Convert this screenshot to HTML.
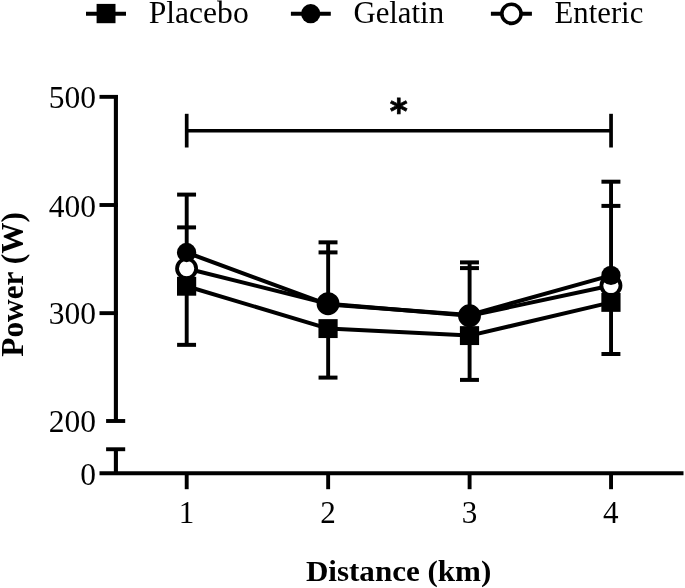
<!DOCTYPE html>
<html lang="en">
<head>
<meta charset="utf-8">
<title>Power vs Distance</title>
<style>
  html, body { margin: 0; padding: 0; background: #ffffff; }
  body { width: 685px; height: 588px; overflow: hidden; }
  svg { display: block; }
  text { fill: #000; }
  .t  { font-family: "Liberation Serif", "DejaVu Serif", serif; font-size: 30.6px; }
  .ty { font-family: "Liberation Serif", "DejaVu Serif", serif; font-size: 32.3px; }
  .tx { font-family: "Liberation Serif", "DejaVu Serif", serif; font-size: 31.1px; }
  .tb { font-family: "Liberation Serif", "DejaVu Serif", serif; font-size: 29.2px; font-weight: bold; }
  .star { font-family: "DejaVu Sans", "Liberation Sans", sans-serif; font-weight: bold; font-size: 34.4px; stroke: #000; stroke-width: 0.8px; stroke-linejoin: miter; }
  line, polyline { stroke: #000; fill: none; stroke-linecap: butt; }
  .ax { stroke-width: 4.1; }
  .tk { stroke-width: 3.9; }
  .eb { stroke-width: 3.9; }
  .cap { stroke-width: 4; }
  .sg { stroke-width: 3.7; }
  .lg { stroke-width: 4; }
  .dl { stroke-width: 4; stroke-linejoin: round; }
</style>
</head>
<body>
<svg width="685" height="588" viewBox="0 0 685 588">
  <rect x="0" y="0" width="685" height="588" fill="#ffffff"/>

  <!-- legend -->
  <g id="legend">
    <line class="lg" x1="86" y1="13.85" x2="126" y2="13.85"/>
    <rect x="96.6" y="3.9" width="18.9" height="19.3" fill="#000"/>
    <text class="t" transform="translate(148.7,23.2) scale(1.033,1)">Placebo</text>
    <line class="lg" x1="290.9" y1="13.85" x2="330.8" y2="13.85"/>
    <circle cx="310.7" cy="13.7" r="9.65" fill="#000"/>
    <text class="t" transform="translate(353.4,23.2) scale(1.007,1)">Gelatin</text>
    <line class="lg" x1="490.9" y1="13.85" x2="531.9" y2="13.85"/>
    <circle cx="511.45" cy="13.8" r="9.6" fill="#fff" stroke="#000" stroke-width="3.6"/>
    <text class="t" transform="translate(554.6,23.3) scale(1.004,1)">Enteric</text>
  </g>

  <!-- axes -->
  <g id="axes">
    <line class="ax" x1="115.90" y1="95.00" x2="115.90" y2="421.00"/>
    <line class="tk" x1="106.10" y1="421.00" x2="125.20" y2="421.00"/>
    <line class="tk" x1="106.10" y1="449.25" x2="125.20" y2="449.25"/>
    <line class="ax" x1="115.90" y1="449.25" x2="115.90" y2="473.30"/>
    <line class="ax" x1="99.50" y1="473.30" x2="683.50" y2="473.30"/>
    <line class="tk" x1="99.50" y1="96.85" x2="117.90" y2="96.85"/>
    <line class="tk" x1="99.50" y1="205.00" x2="117.90" y2="205.00"/>
    <line class="tk" x1="99.50" y1="313.15" x2="117.90" y2="313.15"/>
    <line class="tk" x1="186.70" y1="473.30" x2="186.70" y2="489.20"/>
    <line class="tk" x1="328.15" y1="473.30" x2="328.15" y2="489.20"/>
    <line class="tk" x1="469.60" y1="473.30" x2="469.60" y2="489.20"/>
    <line class="tk" x1="611.05" y1="473.30" x2="611.05" y2="489.20"/>
  </g>
  <!-- tick labels -->
  <g id="ticklabels">
    <text class="ty" transform="translate(96.1,107.9) scale(0.976,1)" text-anchor="end">500</text>
    <text class="ty" transform="translate(96.1,216.5) scale(0.976,1)" text-anchor="end">400</text>
    <text class="ty" transform="translate(96.1,324.2) scale(0.976,1)" text-anchor="end">300</text>
    <text class="ty" transform="translate(96.1,432.3) scale(0.976,1)" text-anchor="end">200</text>
    <text class="ty" transform="translate(96.1,484.6) scale(0.976,1)" text-anchor="end">0</text>
    <text class="tx" x="186.50" y="523" text-anchor="middle">1</text>
    <text class="tx" x="327.95" y="523" text-anchor="middle">2</text>
    <text class="tx" x="469.40" y="523" text-anchor="middle">3</text>
    <text class="tx" x="610.85" y="523" text-anchor="middle">4</text>
  </g>
  <!-- axis titles -->
  <text class="tb" transform="translate(398.6,581.4) scale(1.025,1)" text-anchor="middle" style="font-size:30.3px">Distance (km)</text>
  <text class="tb" transform="translate(22.8,284.4) rotate(-90) scale(0.987,1)" text-anchor="middle" style="font-size:31.7px">Power (W)</text>

  <!-- significance bar -->
  <g id="sig">
    <line class="sg" x1="186.70" y1="130.75" x2="611.05" y2="130.75"/>
    <line class="sg" x1="186.70" y1="113.80" x2="186.70" y2="147.50"/>
    <line class="sg" x1="611.05" y1="113.80" x2="611.05" y2="147.50"/>
    <text class="star" x="398.75" y="123.0" text-anchor="middle">*</text>
  </g>
  <!-- error bars -->
  <g id="errorbars">
    <line class="eb" x1="186.70" y1="194.60" x2="186.70" y2="268.50"/>
    <line class="eb" x1="186.70" y1="286.25" x2="186.70" y2="344.85"/>
    <line class="cap" x1="177.10" y1="194.60" x2="196.05" y2="194.60"/>
    <line class="cap" x1="177.10" y1="227.40" x2="196.05" y2="227.40"/>
    <line class="cap" x1="177.10" y1="344.85" x2="196.05" y2="344.85"/>
    <line class="eb" x1="328.15" y1="242.35" x2="328.15" y2="304.60"/>
    <line class="eb" x1="328.15" y1="328.60" x2="328.15" y2="377.60"/>
    <line class="cap" x1="318.55" y1="242.35" x2="337.50" y2="242.35"/>
    <line class="cap" x1="318.55" y1="252.40" x2="337.50" y2="252.40"/>
    <line class="cap" x1="318.55" y1="377.60" x2="337.50" y2="377.60"/>
    <line class="eb" x1="469.60" y1="262.40" x2="469.60" y2="315.75"/>
    <line class="eb" x1="469.60" y1="335.60" x2="469.60" y2="379.90"/>
    <line class="cap" x1="460.00" y1="262.40" x2="478.95" y2="262.40"/>
    <line class="cap" x1="460.00" y1="268.10" x2="478.95" y2="268.10"/>
    <line class="cap" x1="460.00" y1="379.90" x2="478.95" y2="379.90"/>
    <line class="eb" x1="611.05" y1="181.70" x2="611.05" y2="285.50"/>
    <line class="eb" x1="611.05" y1="302.40" x2="611.05" y2="354.00"/>
    <line class="cap" x1="601.45" y1="181.70" x2="620.40" y2="181.70"/>
    <line class="cap" x1="601.45" y1="205.90" x2="620.40" y2="205.90"/>
    <line class="cap" x1="601.45" y1="354.00" x2="620.40" y2="354.00"/>
  </g>
  <!-- connecting lines -->
  <g id="lines">
    <polyline class="dl" points="186.70,268.50 328.15,303.70 469.60,315.75 611.05,285.50"/>
    <polyline class="dl" points="186.70,286.25 328.15,328.60 469.60,335.60 611.05,302.40"/>
    <polyline class="dl" points="186.70,252.50 328.15,304.60 469.60,314.90 611.05,275.40"/>
  </g>
  <!-- symbols: Enteric (open circle), Placebo (square), Gelatin (filled circle) -->
  <g id="symbols">
    <circle cx="186.60" cy="268.50" r="9.55" fill="#fff" stroke="#000" stroke-width="3.8"/>
    <circle cx="328.05" cy="303.70" r="9.55" fill="#fff" stroke="#000" stroke-width="3.8"/>
    <circle cx="469.50" cy="315.75" r="9.55" fill="#fff" stroke="#000" stroke-width="3.8"/>
    <circle cx="610.95" cy="285.50" r="9.55" fill="#fff" stroke="#000" stroke-width="3.8"/>
    <rect x="177.00" y="276.80" width="19.2" height="18.9" fill="#000"/>
    <rect x="318.45" y="319.15" width="19.2" height="18.9" fill="#000"/>
    <rect x="459.90" y="326.15" width="19.2" height="18.9" fill="#000"/>
    <rect x="601.35" y="292.95" width="19.2" height="18.9" fill="#000"/>
    <circle cx="186.60" cy="252.50" r="9.65" fill="#000"/>
    <circle cx="328.05" cy="304.60" r="9.65" fill="#000"/>
    <circle cx="469.50" cy="314.90" r="9.65" fill="#000"/>
    <circle cx="610.95" cy="275.40" r="9.65" fill="#000"/>
  </g>
</svg>
</body>
</html>
